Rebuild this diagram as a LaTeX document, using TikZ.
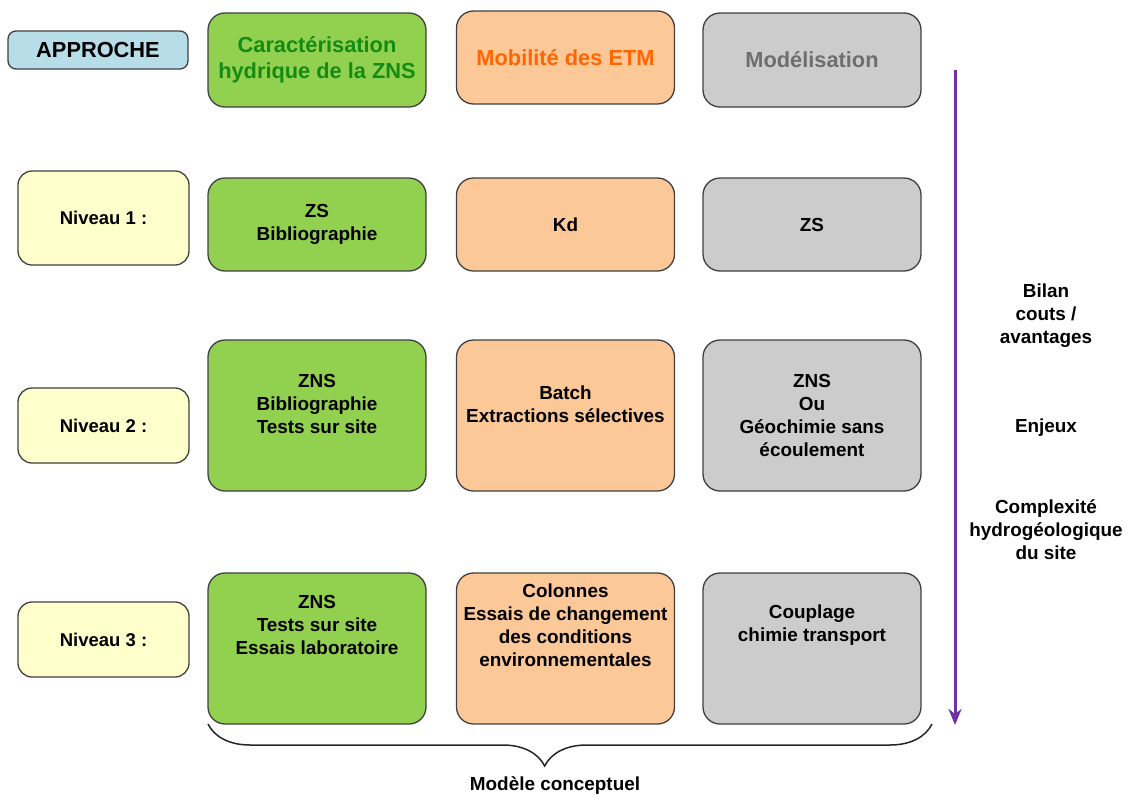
\documentclass[tikz,border=0pt]{standalone}
\usepackage{fontspec}
\setmainfont{Liberation Sans}
\usetikzlibrary{arrows.meta,decorations.pathreplacing}

\definecolor{vert}{RGB}{146,208,80}
\definecolor{verttxt}{RGB}{20,140,20}
\definecolor{orange}{RGB}{252,200,152}
\definecolor{orangetxt}{RGB}{255,102,0}
\definecolor{gris}{RGB}{204,204,204}
\definecolor{gristxt}{RGB}{110,110,110}
\definecolor{jaune}{RGB}{255,255,204}
\definecolor{bleu}{RGB}{183,222,232}
\definecolor{violet}{RGB}{112,48,160}

\tikzset{
  boite/.style={draw=black!75, line width=1.3pt, rounded corners=17pt,
    minimum width=218pt, align=center, inner sep=0pt},
  niveau/.style={draw=black!75, line width=1.3pt, rounded corners=14pt, fill=jaune,
    minimum width=171pt, minimum height=75pt, font=\fontsize{18.5}{22}\selectfont\bfseries},
  corps/.style={align=center, font=\fontsize{18.9}{23}\selectfont\bfseries},
  titre/.style={font=\fontsize{21.8}{26}\selectfont\bfseries}
}

\begin{document}
\begin{tikzpicture}[x=1pt, y=-1pt]
  \useasboundingbox (0,0) rectangle (1129,798);

  % Approche et titres
  \node[draw=black!75, line width=1.3pt, rounded corners=8pt, fill=bleu,
    minimum width=180pt, minimum height=38pt, titre] (approche) at (98,50) {APPROCHE};
  \node[boite, fill=vert, minimum height=94pt, titre, text=verttxt] (t1) at (317,60)
    {Caractérisation\\hydrique de la ZNS};
  \node[boite, fill=orange, minimum height=93pt, titre, text=orangetxt] (t2) at (565.5,57.5)
    {Mobilité des ETM};
  \node[boite, fill=gris, minimum height=94pt, titre, text=gristxt] (t3) at (812,60)
    {Modélisation};

  % Niveaux
  \node[niveau, minimum height=94pt] (n1) at (103.5,218) {Niveau 1 :};
  \node[niveau] (n2) at (103.5,425.5) {Niveau 2 :};
  \node[niveau] (n3) at (103.5,639.5) {Niveau 3 :};

  % Niveau 1
  \node[boite, fill=vert, minimum height=93pt, corps] (v1) at (317,224.5) {ZS\\Bibliographie};
  \node[boite, fill=orange, minimum height=93pt, corps] (o1) at (565.5,224.5) {Kd};
  \node[boite, fill=gris, minimum height=93pt, corps] (g1) at (812,224.5) {ZS};

  % Niveau 2
  \node[boite, fill=vert, minimum height=151pt] (v2) at (317,415.5) {};
  \node[boite, fill=orange, minimum height=151pt] (o2) at (565.5,415.5) {};
  \node[boite, fill=gris, minimum height=151pt, corps] (g2) at (812,415.5)
    {ZNS\\Ou\\Géochimie sans\\écoulement};
  \node[corps] (v2txt) at (317,404) {ZNS\\Bibliographie\\Tests sur site};
  \node[corps] (o2txt) at (565.5,404) {Batch\\Extractions sélectives};

  % Niveau 3
  \node[boite, fill=vert, minimum height=151pt] (v3) at (317,648.5) {};
  \node[boite, fill=orange, minimum height=151pt] (o3) at (565.5,648.5) {};
  \node[boite, fill=gris, minimum height=151pt] (g3) at (812,648.5) {};
  \node[corps] (v3txt) at (317,625) {ZNS\\Tests sur site\\Essais laboratoire};
  \node[corps] (o3txt) at (565.5,625)
    {Colonnes\\Essais de changement\\des conditions\\environnementales};
  \node[corps] (g3txt) at (812,625) {Couplage\\chimie transport};

  % Fleche et criteres
  \coordinate (hautfleche) at (955,70);
  \coordinate (basfleche) at (955,725);
  \draw[violet, line width=3pt, -{Stealth[length=16pt, width=13pt, inset=5pt]}]
    (hautfleche) -- (basfleche);
  \node[corps] (bilan) at (1046,316) {Bilan\\couts /\\avantages};
  \node[corps] (enjeux) at (1046,428) {Enjeux};
  \node[corps] (complex) at (1046,530) {Complexité\\hydrogéologique\\du site};

  % Accolade
  \coordinate (accg) at (208,724);
  \coordinate (accd) at (932,724);
  \draw[black!85, line width=1.5pt, decorate,
    decoration={brace, mirror, amplitude=42pt, aspect=0.465}] (accg) -- (accd);
  \node[corps] (modele) at (555,786) {Modèle conceptuel};
\end{tikzpicture}
\end{document}
